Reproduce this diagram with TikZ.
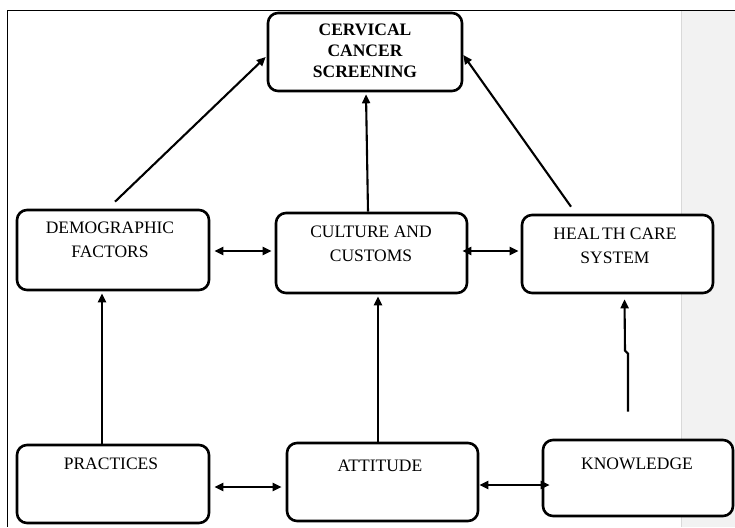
\documentclass[tikz,border=0pt]{standalone}
\usepackage{fontspec}
\setmainfont{Liberation Serif}
\usetikzlibrary{arrows.meta}
\begin{document}
\begin{tikzpicture}[x=1pt,y=-1pt,
  box/.style={draw=black,line width=2.6pt,rounded corners=10pt,fill=white,inner sep=0pt,minimum width=#1},
  box/.default=192pt,
  lbl/.style={inner sep=0pt,align=center,font=\fontsize{17.5}{24}\selectfont},
  arr/.style={line width=2.1pt,-{Triangle[length=9pt,width=8pt]}},
  darr/.style={line width=2.1pt,{Triangle[length=9pt,width=8pt]}-{Triangle[length=9pt,width=8pt]}}]
\useasboundingbox (0,0) rectangle (735,527);
% background panel and frame
\fill[white] (0,0) rectangle (735,527);
\fill[black!5] (681,10.5) rectangle (735,527);
\draw[black!15,line width=1pt] (681,10.5) -- (681,527);
\draw[line width=1.3pt] (735,10.5) -- (7.3,10.5) -- (7.3,527);
% boxes
\node[box=194pt,minimum height=78pt] (cerv) at (365,52) {};
\node[box=192pt,minimum height=80pt] (demo) at (113,250) {};
\node[box=191pt,minimum height=80pt] (cult) at (371.5,253) {};
\node[box=191pt,minimum height=78pt] (health) at (617.5,254) {};
\node[box=192pt,minimum height=78pt] (prac) at (113,484) {};
\node[box=191pt,minimum height=78pt] (att) at (382.5,482) {};
\node[box=190pt,minimum height=76pt] (know) at (638,478) {};
% labels
\node[lbl,font=\fontsize{17.5}{21}\selectfont\bfseries] (cervt) at (365,51) {CERVICAL\\CANCER\\SCREENING};
\node[lbl] (demot) at (110,240) {DEMOGRAPHIC\\FACTORS};
\node[lbl] (cultt) at (371,243.5) {CULTURE AND\\CUSTOMS};
\node[lbl] (healtht) at (615,245.5) {HEAL\kern2ptTH CARE\\SYSTEM};
\node[lbl] (pract) at (111,464) {PRACTICES};
\node[lbl] (attt) at (380,466) {ATTITUDE};
\node[lbl] (knowt) at (637,464) {KNOWLEDGE};
% connectors
\draw[arr] ([shift={(2,-7)}]demo.north) -- ([shift={(-1,5)}]cerv.west);
\draw[arr] ([shift={(-3.5,0)}]cult.north) -- ([shift={(1,2)}]cerv.south);
\draw[arr] ([shift={(-46.5,-7)}]health.north) -- ([shift={(0,3)}]cerv.east);
\draw[darr] ([shift={(4,1)}]demo.east) -- ([shift={(-3,-2)}]cult.west);
\draw[darr] ([shift={(-6,-2)}]cult.east) -- ([shift={(-2,-3)}]health.west);
\draw[arr] ([shift={(-11,0)}]prac.north) -- ([shift={(-11,2)}]demo.south);
\draw[arr] ([shift={(-4.5,0)}]att.north) -- ([shift={(6.5,2)}]cult.south);
\draw[arr] ([shift={(-10,-27)}]know.north) -- ++(0,-58) -- ++(-3,-3) -- ([shift={(7,5)}]health.south);
\draw[darr] ([shift={(4,3)}]prac.east) -- ([shift={(-4,5)}]att.west);
\draw[darr] ([shift={(0,3)}]att.east) -- ([shift={(8,7)}]know.west);
\end{tikzpicture}
\end{document}
